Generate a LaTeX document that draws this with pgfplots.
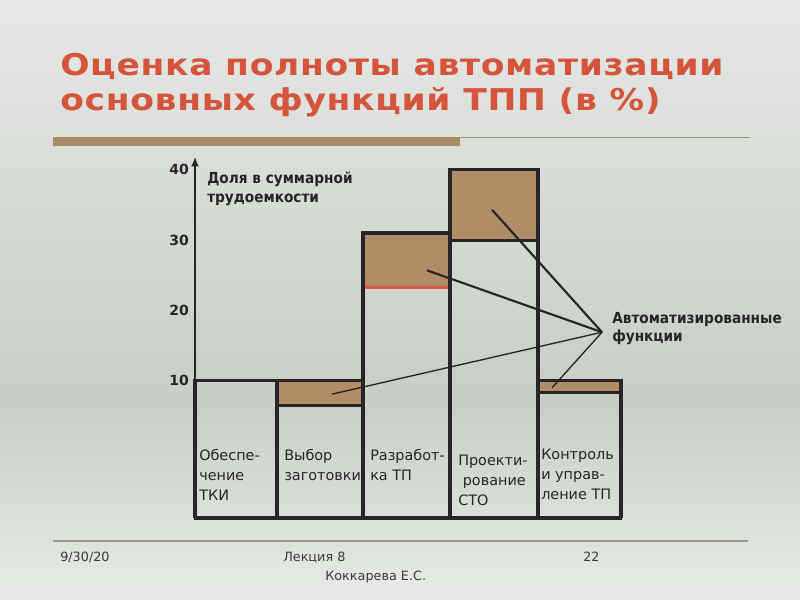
\documentclass[border=0pt]{standalone}
\usepackage{pgfplots}
\pgfplotsset{compat=1.18}
\usepackage{fontspec}
\setmainfont{DejaVu Sans}
\newfontfamily\condfont{DejaVu Sans Condensed}
\newfontfamily\titlefont[LetterSpace=2]{DejaVu Sans}
\usetikzlibrary{arrows.meta}

\definecolor{bgtop}{HTML}{E6E8E5}
\definecolor{bgmid}{HTML}{C8CEC7}
\definecolor{bgbot}{HTML}{E8EBE7}
\definecolor{titlered}{HTML}{D4553C}
\definecolor{barbrown}{HTML}{B08D66}
\definecolor{redline}{HTML}{D9573F}
\definecolor{ink}{HTML}{262626}
\definecolor{rulebrown}{HTML}{A88C68}
\definecolor{footline}{HTML}{9E9A88}
\definecolor{foottext}{HTML}{3A3A3A}

\begin{document}
\begin{tikzpicture}[x=0.75pt,y=0.75pt]
  \useasboundingbox (0,0) rectangle (800,600);
  % slide background
  \shade[top color=bgtop, bottom color=bgmid] (0,200) rectangle (800,600);
  \shade[top color=bgmid, bottom color=bgbot] (0,0) rectangle (800,200.5);

  % title
  \node[anchor=base west, inner sep=0pt, text=titlered, align=left,
        font=\titlefont\fontsize{22.5pt}{26.25pt}\selectfont\bfseries] at (60,600-111)
    {\scalebox{1.15}[1]{Оценка полноты автоматизации}\\
     \scalebox{1.15}[1]{основных функций ТПП (в \%)}};
  \fill[rulebrown] (53,600-146) rectangle (460,600-137);
  \draw[rulebrown, line width=0.75pt] (460,600-137.5) -- (750,600-137.5);

  % footer
  \draw[footline, line width=0.9pt] (53,600-541) -- (748,600-541);
  \begin{scope}[every node/.style={anchor=base west, inner sep=0pt, text=foottext,
      font=\fontsize{9.6pt}{11pt}\selectfont}]
    \node at (60,600-562) {9/30/20};
    \node at (283,600-562) {Лекция 8};
    \node at (583,600-562) {22};
    \node at (325,600-581) {Коккарева Е.С.};
  \end{scope}

  \coordinate (axorig) at (195,82);
  \begin{axis}[
    at={(axorig)}, anchor=south west,
    scale only axis,
    width=319.5pt, height=270.75pt,
    xmin=0, xmax=426,
    ymin=-9.5, ymax=41.8,
    axis x line=none,
    axis y line=left,
    y axis line style={ink, line width=2.2pt, -{Latex[length=7pt,width=6pt]}},
    ytick={10,20,30,40},
    major tick length=0pt,
    yticklabel style={font=\bfseries\fontsize{10.5pt}{12pt}\selectfont, text=ink, xshift=-1pt},
    /pgf/number format/assume math mode=true,
    clip=false,
  ]
    % automated shares (brown)
    \addplot[fill=barbrown, draw=none] coordinates {(82,6.5) (168,6.5) (168,10) (82,10)} -- cycle;
    \addplot[fill=barbrown, draw=none] coordinates {(168,23.2) (255,23.2) (255,31) (168,31)} -- cycle;
    \addplot[fill=barbrown, draw=none] coordinates {(255,30) (343,30) (343,40) (255,40)} -- cycle;
    \addplot[fill=barbrown, draw=none] coordinates {(343,8.4) (426,8.4) (426,10) (343,10)} -- cycle;
    % boundaries of the automated shares
    \addplot[redline, line width=2.4pt] coordinates {(168,23.2) (255,23.2)};
    \addplot[ink, line width=2.2pt] coordinates {(82,6.5) (168,6.5)};
    \addplot[ink, line width=2.2pt] coordinates {(255,30) (343,30)};
    \addplot[ink, line width=2.2pt] coordinates {(343,8.4) (426,8.4)};
    % bars (share in total labour)
    \addplot[ink, line width=2.3pt, line join=miter] coordinates {(0,-9.5) (0,10) (82,10) (82,-9.5)};
    \addplot[ink, line width=2.3pt, line join=miter] coordinates {(82,-9.5) (82,10) (168,10) (168,-9.5)};
    \addplot[ink, line width=2.3pt, line join=miter] coordinates {(168,-9.5) (168,31) (255,31) (255,-9.5)};
    \addplot[ink, line width=2.3pt, line join=miter] coordinates {(255,-9.5) (255,40) (343,40) (343,-9.5)};
    \addplot[ink, line width=2.3pt, line join=miter] coordinates {(343,-9.5) (343,10) (426,10) (426,-9.5)};
    \addplot[ink, line width=2.3pt] coordinates {(-1,-9.5) (427,-9.5)};
    % leader lines
    \addplot[ink, line width=1.6pt] coordinates {(297,34.3) (407,16.9)};
    \addplot[ink, line width=1.6pt] coordinates {(232,25.7) (407,16.9)};
    \addplot[ink, line width=1.0pt] coordinates {(137,8.1) (407,16.9)};
    \addplot[ink, line width=1.0pt] coordinates {(357,9.0) (407,16.9)};

    % texts
    \node[anchor=north west, align=left, inner sep=0pt, text=ink,
          font=\condfont\bfseries\fontsize{11.4pt}{14pt}\selectfont] at (axis cs:12,39.7)
      {Доля в суммарной\\трудоемкости};
    \node[anchor=west, align=left, inner sep=0pt, text=ink,
          font=\condfont\bfseries\fontsize{11.4pt}{14pt}\selectfont] at (axis cs:417,17.4)
      {Автоматизированные\\функции};
    \begin{scope}[every node/.style={anchor=north west, align=left, inner sep=0pt, text=ink,
        font=\fontsize{10.8pt}{15pt}\selectfont}]
      \node at (axis cs:4,0.35) {Обеспе-\\чение\\ТКИ};
      \node at (axis cs:89,0.35) {Выбор\\заготовки};
      \node at (axis cs:175,0.35) {Разработ-\\ка ТП};
      \node at (axis cs:263,-0.45) {Проекти-\\\ рование\\СТО};
      \node at (axis cs:346,0.35) {Контроль\\и управ-\\ление ТП};
    \end{scope}
  \end{axis}
\end{tikzpicture}
\end{document}
